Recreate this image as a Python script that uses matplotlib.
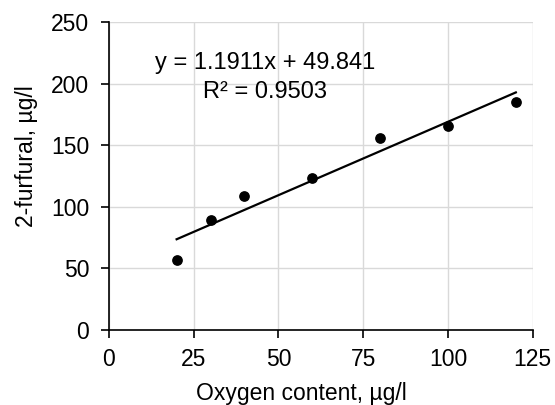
import numpy as np
import matplotlib.pyplot as plt

plt.rcParams['font.family'] = ['Liberation Sans', 'DejaVu Sans']

# measured points
oxygen = [20, 30, 40, 60, 80, 100, 120]
furfural = [56.5, 89, 109, 123.5, 156, 165.5, 185]

# linear trendline as reported on the chart
slope = 1.1911
intercept = 49.841
r2 = 0.9503

fig = plt.figure(figsize=(5.55, 4.05), dpi=100)
ax = fig.add_axes([0.196, 0.185, 0.764, 0.761])

ax.scatter(oxygen, furfural, s=45, color='black', zorder=3)

x_fit = np.array([min(oxygen), max(oxygen)])
ax.plot(x_fit, slope * x_fit + intercept, color='black', lw=1.6, zorder=2)

ax.text(46, 217, f"y = {slope}x + {intercept}", ha='center', va='center', fontsize=17)
ax.text(46, 193, f"R² = {r2}", ha='center', va='center', fontsize=17)

ax.set_xlim(0, 125)
ax.set_ylim(0, 250)
ax.set_xticks([0, 25, 50, 75, 100, 125])
ax.set_yticks([0, 50, 100, 150, 200, 250])
ax.grid(True, color='#d9d9d9', lw=1)
ax.set_axisbelow(True)

for side in ['top', 'right']:
    ax.spines[side].set_visible(False)
for side in ['left', 'bottom']:
    ax.spines[side].set_linewidth(1.2)

ax.tick_params(labelsize=16.5, length=6, width=1.2, direction='out')
ax.tick_params(axis='y', pad=8)
ax.tick_params(axis='x', pad=7)
ax.set_xlabel("Oxygen content, µg/l", fontsize=16.5)
ax.set_ylabel("2-furfural, µg/l", fontsize=16.5)
ax.xaxis.set_label_coords(0.455, -0.17)
ax.yaxis.set_label_coords(-0.168, 0.565)

plt.savefig("out.png", dpi=100)
plt.close()
